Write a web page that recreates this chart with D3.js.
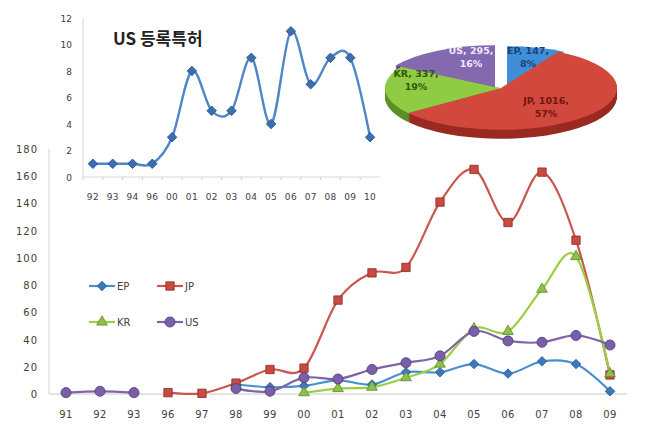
<!DOCTYPE html>
<html>
<head>
<meta charset="utf-8">
<script src="https://cdn.jsdelivr.net/npm/d3@7"></script>
<style>
body{margin:0;background:#fff;}
text{font-family:"DejaVu Sans","Noto Sans",sans-serif;fill:#404040;}
</style>
</head>
<body>
<div id="chart"></div>
<script>
// main chart data (per year)
var mainYears = ["91","92","93","96","97","98","99","00","01","02","03","04","05","06","07","08","09"];
var epValues = [null,null,null,null,null,7,5,6,10,7,16,16,22,15,24,22,2];
var jpValues = [null,null,null,1,0.5,8,18,19,69,89,93,141,165,126,163,113,14];
var krValues = [null,null,null,null,null,null,null,1,4,5,12,22,48,46,77,101,15];
var usValues = [1,2,1,null,null,4,2,12,11,18,23,28,46,39,38,43,36];
var mainTicks = [0,20,40,60,80,100,120,140,160,180];

// inset: US registered patents
var insetYears = ["92","93","94","96","00","01","02","03","04","05","06","07","08","09","10"];
var usRegistered = [1,1,1,1,3,8,5,5,9,4,11,7,9,9,3];
var insetTicks = [0,2,4,6,8,10,12];

// pie totals
var pieLabels = ["EP","JP","KR","US"];
var pieValues = [147,1016,337,295];

var width = 647, height = 438;
var svg = d3.select("#chart").append("svg")
    .attr("width", width).attr("height", height);

// diamond = square turned 45deg
function marker(type, size){
    if (type === "diamond") return d3.symbol().type(d3.symbolSquare).size(size)();
    return d3.symbol().type(type).size(size)();
}
function markerRot(type){ return type === "diamond" ? " rotate(45)" : ""; }

// ---------- main chart ----------
var x = d3.scaleBand().domain(mainYears).range([49, 627]);
var y = d3.scaleLinear().domain([0,180]).range([394, 149]);

svg.append("line").attr("x1",49).attr("x2",49).attr("y1",149).attr("y2",394)
    .attr("stroke","#d0d0d0");
svg.append("line").attr("x1",49).attr("x2",627).attr("y1",394).attr("y2",394)
    .attr("stroke","#c8c8c8");

svg.selectAll(".ylab").data(mainTicks).enter().append("text")
    .attr("x",38).attr("y",function(d){return y(d)+4;})
    .attr("text-anchor","end").style("font-size","10px").style("letter-spacing","1px")
    .text(function(d){return d;});

svg.selectAll(".xlab").data(mainYears).enter().append("text")
    .attr("x",function(d){return x(d)+x.bandwidth()/2;}).attr("y",418)
    .attr("text-anchor","middle").style("font-size","10px").style("letter-spacing","0.5px")
    .text(function(d){return d;});

var series = [
    {name:"EP", values:epValues, color:"#4a8fd0", fill:"#3d78bd", stroke:"#2a5a96", symbol:"diamond", size:45},
    {name:"JP", values:jpValues, color:"#c9574f", fill:"#c84b42", stroke:"#8c2a24", symbol:d3.symbolSquare, size:70},
    {name:"KR", values:krValues, color:"#9bcf45", fill:"#8cc04a", stroke:"#5d8a2a", symbol:d3.symbolTriangle, size:50},
    {name:"US", values:usValues, color:"#7e64a8", fill:"#7a5fa8", stroke:"#4e3a7a", symbol:d3.symbolCircle, size:80}
];

var line = d3.line()
    .defined(function(d){return d.v !== null;})
    .x(function(d){return x(d.k)+x.bandwidth()/2;})
    .y(function(d){return y(d.v);})
    .curve(d3.curveCatmullRom.alpha(0));

series.forEach(function(s){
    var pts = mainYears.map(function(k,i){return {k:k, v:s.values[i]};});
    svg.append("path").datum(pts)
        .attr("d", line).attr("fill","none")
        .attr("stroke", s.color).attr("stroke-width",2.2);
});
series.forEach(function(s){
    var pts = mainYears.map(function(k,i){return {k:k, v:s.values[i]};})
        .filter(function(d){return d.v !== null;});
    svg.selectAll(".m"+s.name).data(pts).enter().append("path")
        .attr("d", marker(s.symbol, s.size))
        .attr("transform", function(d){return "translate("+(x(d.k)+x.bandwidth()/2)+","+y(d.v)+")"+markerRot(s.symbol);})
        .attr("fill", s.fill).attr("stroke", s.stroke).attr("stroke-width",0.8);
});

// legend
var legPos = [[89,286],[157,286],[89,322],[157,322]];
series.forEach(function(s,i){
    var g = svg.append("g").attr("transform","translate("+legPos[i][0]+","+legPos[i][1]+")");
    g.append("line").attr("x1",0).attr("x2",26).attr("stroke",s.color).attr("stroke-width",2.2);
    g.append("path").attr("d", marker(s.symbol, s.size))
        .attr("transform","translate(13,0)"+markerRot(s.symbol))
        .attr("fill",s.fill).attr("stroke",s.stroke).attr("stroke-width",0.8);
    g.append("text").attr("x",28).attr("y",4).style("font-size","10px").text(s.name);
});

// ---------- inset chart ----------
var ix = d3.scaleBand().domain(insetYears).range([83, 380]);
var iy = d3.scaleLinear().domain([0,12]).range([177, 18]);

svg.append("line").attr("x1",83).attr("x2",83).attr("y1",18).attr("y2",177).attr("stroke","#d8d8d8");
svg.append("line").attr("x1",83).attr("x2",380).attr("y1",177).attr("y2",177).attr("stroke","#d8d8d8");
svg.selectAll(".itk").data(insetYears).enter().append("line")
    .attr("x1",function(d){return ix(d);}).attr("x2",function(d){return ix(d);})
    .attr("y1",177).attr("y2",180).attr("stroke","#d0d0d0");

svg.selectAll(".iylab").data(insetTicks).enter().append("text")
    .attr("x",72).attr("y",function(d){return iy(d)+3.5;})
    .attr("text-anchor","end").style("font-size","9px")
    .text(function(d){return d;});
svg.selectAll(".ixlab").data(insetYears).enter().append("text")
    .attr("x",function(d){return ix(d)+ix.bandwidth()/2;}).attr("y",200)
    .attr("text-anchor","middle").style("font-size","9px").style("letter-spacing","0.3px")
    .text(function(d){return d;});

svg.append("text").attr("x",113).attr("y",45)
    .style("font-family","'Noto Sans CJK KR',sans-serif").style("font-weight","bold")
    .style("font-size","17px").style("fill","#222").text("US 등록특허");

var ipts = insetYears.map(function(k,i){return {k:k, v:usRegistered[i]};});
svg.append("path").datum(ipts)
    .attr("d", d3.line()
        .x(function(d){return ix(d.k)+ix.bandwidth()/2;})
        .y(function(d){return iy(d.v);})
        .curve(d3.curveCatmullRom.alpha(0)))
    .attr("fill","none").attr("stroke","#4f86c6").attr("stroke-width",2.4);
svg.selectAll(".im").data(ipts).enter().append("path")
    .attr("d", marker("diamond", 45))
    .attr("transform", function(d){return "translate("+(ix(d.k)+ix.bandwidth()/2)+","+iy(d.v)+") rotate(45)";})
    .attr("fill","#3b6fb0").attr("stroke","#28508a").attr("stroke-width",0.8);

// ---------- 3D pie ----------
var total = d3.sum(pieValues);
var pieTop = ["#3f8fd8","#d3483c","#8fcc44","#8468b0"];
var pieSide = ["#23609e","#9a2a22","#5d8f26","#55407e"];
var shift = [[6,0],[0,0],[0,0],[-6,-1]];
var cx = 501, cy = 88, R = 116, k = 0.36, depth = 9;

var arcs = d3.pie().sort(null)(pieValues);
var arc = d3.arc().innerRadius(0).outerRadius(R);
var pg = svg.append("g").attr("transform","translate("+cx+","+cy+") scale(1,"+k+")");

for (var z = depth; z >= 1; z--) {
    pg.selectAll(".side"+z).data(arcs).enter().append("path")
        .attr("d", arc)
        .attr("transform", function(d,i){return "translate("+shift[i][0]+","+(shift[i][1]+z)/k+")";})
        .attr("fill", function(d,i){return pieSide[i];});
}
pg.selectAll(".top").data(arcs).enter().append("path")
    .attr("d", arc)
    .attr("transform", function(d,i){return "translate("+shift[i][0]+","+shift[i][1]/k+")";})
    .attr("fill", function(d,i){return pieTop[i];});

var pieTextPos = [[528,54],[546,104],[416,77],[471,54]];
var pieTextColor = ["#1d3f78","#6e1610","#35560f","#efe8ff"];
pieLabels.forEach(function(lab,i){
    var t = svg.append("text").attr("x",pieTextPos[i][0]).attr("y",pieTextPos[i][1])
        .attr("text-anchor","middle").style("font-size","9.5px").style("font-weight","bold")
        .style("fill",pieTextColor[i]);
    t.append("tspan").attr("x",pieTextPos[i][0]).text(lab+", "+pieValues[i]+",");
    t.append("tspan").attr("x",pieTextPos[i][0]).attr("dy",13)
        .text(Math.round(pieValues[i]/total*100)+"%");
});
</script>
</body>
</html>
